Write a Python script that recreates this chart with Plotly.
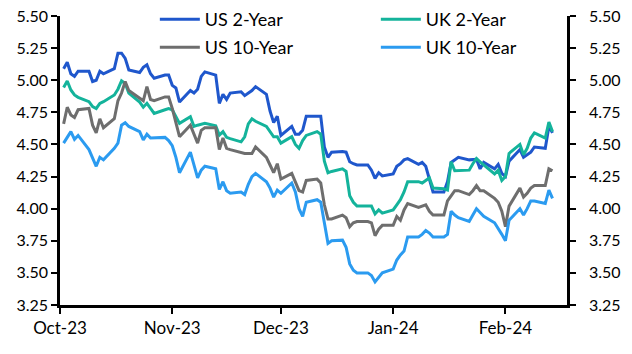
import plotly.graph_objects as go
import pandas as pd

# ---------------- data ----------------
dates = pd.bdate_range("2023-10-02", "2024-02-14")

us_2y = [
    # Oct
    5.09, 5.14, 5.05, 5.03, 5.07, 5.07, 4.99, 5.00, 5.07, 5.05, 5.09,
    5.21, 5.21, 5.17, 5.08, 5.06, 5.10, 5.12, 5.05, 5.015, 5.04, 5.04,
    # Nov
    4.96, 4.94, 4.83, 4.92, 4.90, 4.93, 5.03, 5.065, 5.04, 4.82, 4.89,
    4.85, 4.90, 4.91, 4.88, 4.90, 4.92, 4.95, 4.89, 4.76, 4.67, 4.72,
    # Dec
    4.57, 4.64, 4.58, 4.58, 4.61, 4.72, 4.72, 4.72, 4.48, 4.40, 4.44,
    4.445, 4.44, 4.365, 4.35, 4.34, 4.34, 4.30, 4.236, 4.28, 4.255,
    # Jan
    4.27, 4.33, 4.35, 4.38, 4.39, 4.345, 4.36, 4.33, 4.22, 4.13, 4.13,
    4.21, 4.36, 4.38, 4.40, 4.38, 4.38, 4.385, 4.31, 4.36, 4.31, 4.345, 4.275,
    # Feb
    4.25, 4.37, 4.46, 4.40, 4.42, 4.44, 4.48, 4.47, 4.64, 4.59,
]

uk_2y = [
    4.944, 4.994, 4.924, 4.885, 4.867, 4.833, 4.794, 4.78, 4.82, 4.833, 4.885,
    4.93, 4.996, 4.975, 4.90, 4.83, 4.79, 4.82, 4.78, 4.742, 4.77, 4.78,
    4.77, 4.72, 4.664, 4.716, 4.64, 4.65, 4.66, 4.664, 4.645, 4.573, 4.60,
    4.555, 4.545, 4.52, 4.56, 4.66, 4.70, 4.68, 4.64, 4.60, 4.56, 4.56,
    4.51, 4.56, 4.50, 4.47, 4.53, 4.57, 4.60, 4.58, 4.37, 4.28, 4.29,
    4.31, 4.29, 4.10, 4.05, 4.02, 4.02, 4.02, 3.96, 3.99, 3.965,
    3.99, 4.03, 4.07, 4.13, 4.21, 4.21, 4.20, 4.22, 4.24, 4.16, 4.155,
    4.145, 4.365, 4.295, 4.295, 4.30, 4.35, 4.39, 4.365, 4.34, 4.27, 4.30, 4.22,
    4.25, 4.43, 4.50, 4.42, 4.47, 4.55, 4.59, 4.55, 4.675, 4.60,
]

us_10y = [
    4.66, 4.79, 4.73, 4.71, 4.77, 4.78, 4.65, 4.59, 4.70, 4.63, 4.70,
    4.84, 4.90, 4.99, 4.92, 4.86, 4.84, 4.95, 4.85, 4.84, 4.87, 4.87,
    4.78, 4.67, 4.56, 4.65, 4.58, 4.51, 4.61, 4.63, 4.63, 4.46, 4.55,
    4.47, 4.46, 4.44, 4.43, 4.43, 4.43, 4.48, 4.40, 4.34, 4.28, 4.35,
    4.23, 4.275, 4.20, 4.14, 4.13, 4.22, 4.23, 4.20, 4.03, 3.92, 3.92,
    3.95, 3.93, 3.86, 3.89, 3.90, 3.90, 3.89, 3.79, 3.84, 3.87,
    3.87, 3.94, 3.91, 3.99, 4.04, 4.01, 4.02, 4.03, 3.98, 3.95, 3.95,
    4.06, 4.10, 4.14, 4.14, 4.11, 4.14, 4.18, 4.14, 4.14, 4.08, 4.05, 3.98,
    3.86, 4.02, 4.16, 4.09, 4.12, 4.16, 4.18, 4.18, 4.31, 4.295,
]

uk_10y = [
    4.51, 4.56, 4.60, 4.54, 4.57, 4.46, 4.39, 4.33, 4.40, 4.38, 4.47,
    4.51, 4.65, 4.67, 4.64, 4.60, 4.535, 4.58, 4.55, 4.55, 4.555, 4.53,
    4.49, 4.40, 4.28, 4.44, 4.33, 4.24, 4.30, 4.33, 4.31, 4.15, 4.21,
    4.14, 4.12, 4.13, 4.11, 4.19, 4.25, 4.275, 4.21, 4.16, 4.09, 4.145,
    4.12, 4.20, 4.13, 4.00, 3.94, 4.05, 4.07, 4.05, 3.89, 3.73, 3.75,
    3.755, 3.70, 3.57, 3.52, 3.50, 3.50, 3.48, 3.43, 3.47, 3.50,
    3.53, 3.60, 3.64, 3.67, 3.78, 3.78, 3.80, 3.83, 3.81, 3.78, 3.78,
    3.80, 3.98, 3.95, 3.93, 3.90, 3.95, 4.00, 3.97, 3.94, 3.89, 3.85, 3.80,
    3.75, 3.91, 4.00, 3.95, 4.00, 4.06, 4.06, 4.04, 4.145, 4.08,
]

series_names = ["US 2-Year", "UK 2-Year", "US 10-Year", "UK 10-Year"]
month_ticks = ["2023-10-01", "2023-11-01", "2023-12-01", "2024-01-01", "2024-02-01"]
month_labels = ["Oct-23", "Nov-23", "Dec-23", "Jan-24", "Feb-24"]
y_ticks = [3.25, 3.50, 3.75, 4.00, 4.25, 4.50, 4.75, 5.00, 5.25, 5.50]

# ---------------- figure ----------------
colors = ["#1F57CC", "#14B39B", "#6E6E6E", "#2B9BF0"]
values = [us_2y, uk_2y, us_10y, uk_10y]
legends = ["legend", "legend", "legend2", "legend2"]
yaxes = ["y", "y", "y", "y2"]

FONT = "Lato"
fig = go.Figure()
for name, vals, col, lg, ya in zip(series_names, values, colors, legends, yaxes):
    fig.add_trace(go.Scatter(
        x=dates, y=vals, mode="lines", name=name,
        line=dict(color=col, width=3), legend=lg, yaxis=ya,
    ))

axis_common = dict(
    range=[3.25, 5.50], tickvals=y_ticks, tickformat=".2f",
    ticks="outside", ticklen=6, tickwidth=2, tickcolor="black",
    showline=True, linecolor="black", linewidth=2.5,
    showgrid=False, zeroline=False,
    tickfont=dict(family=FONT, size=16, color="black"),
)

legend_common = dict(
    orientation="h", xanchor="left", yanchor="top",
    xref="container", yref="container",
    entrywidth=166, entrywidthmode="pixels", itemwidth=40,
    font=dict(family=FONT, size=18, color="black"),
    bgcolor="rgba(0,0,0,0)", borderwidth=0,
)

fig.update_layout(
    width=632, height=354,
    margin=dict(l=60, r=65, t=16, b=49, autoexpand=False),
    paper_bgcolor="white", plot_bgcolor="white",
    font=dict(family=FONT, size=16, color="black"),
    xaxis=dict(
        type="date", range=["2023-10-01", "2024-02-18"],
        tickvals=month_ticks, ticktext=month_labels,
        ticks="outside", ticklen=6, tickwidth=2, tickcolor="black",
        showline=True, linecolor="black", linewidth=2.5,
        showgrid=False, zeroline=False,
        tickfont=dict(family=FONT, size=17, color="black"),
    ),
    yaxis=dict(side="left", **axis_common),
    yaxis2=dict(side="right", overlaying="y", anchor="x",
                ticklabelstandoff=10, **axis_common),
    legend=dict(x=0.245, y=0.997, **legend_common),
    legend2=dict(x=0.245, y=0.918, **legend_common),
    showlegend=True,
)

fig.write_html("out.html")
